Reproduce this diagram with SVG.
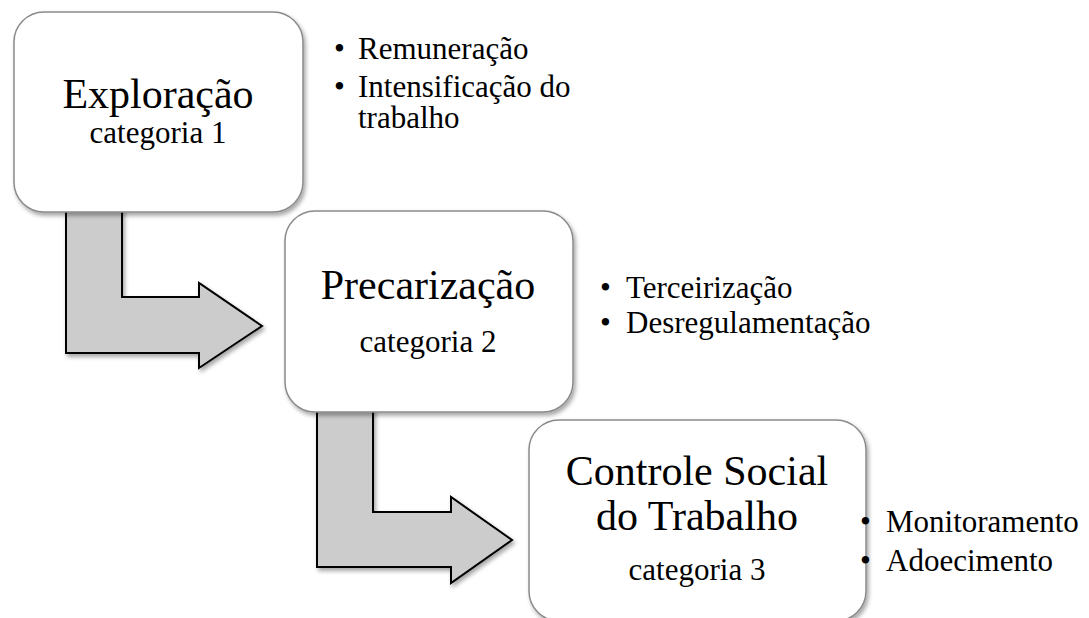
<svg xmlns="http://www.w3.org/2000/svg" width="1089" height="618" viewBox="0 0 1089 618">
<defs>
<filter id="sh" x="-10%" y="-10%" width="125%" height="125%">
<feDropShadow dx="2" dy="3" stdDeviation="2" flood-color="#000" flood-opacity="0.35"/>
</filter>
<style>
.box{fill:#fff;stroke:#8a8a8a;stroke-width:1.5;filter:url(#sh)}
.arr{fill:#cccccc;stroke:#000;stroke-width:2;stroke-linejoin:miter;filter:url(#sh)}
.t{font-family:"Liberation Serif","Times New Roman",serif;fill:#000}
.big{font-size:42px;text-anchor:middle}
.sub{font-size:31px;text-anchor:middle}
.bl{font-size:31px}
</style>
</defs>
<rect width="1089" height="618" fill="#fff"/>
<g id="connectors">
<polygon class="arr" points="66,205 66,353 199,353 199,368 262,326 199,283 199,297 122,297 122,205"/>
<polygon class="arr" points="317,405 317,567 451,567 451,583 512,540 451,497 451,512 373,512 373,405"/>
</g>
<g id="node1">
<rect class="box" x="14" y="12" width="289" height="200" rx="30"/>
<text class="t big" x="158" y="108">Exploração</text>
<text class="t sub" x="158" y="143">categoria 1</text>
</g>
<g id="list1">
<text class="t bl" x="334" y="59">•</text>
<text class="t bl" x="358" y="59">Remuneração</text>
<text class="t bl" x="334" y="97">•</text>
<text class="t bl" x="358" y="97">Intensificação do</text>
<text class="t bl" x="358" y="128">trabalho</text>
</g>
<g id="node2">
<rect class="box" x="285" y="211" width="288" height="201" rx="30"/>
<text class="t big" x="428" y="299">Precarização</text>
<text class="t sub" x="428" y="352">categoria 2</text>
</g>
<g id="list2">
<text class="t bl" x="600" y="298">•</text>
<text class="t bl" x="626" y="298">Terceirização</text>
<text class="t bl" x="600" y="333">•</text>
<text class="t bl" x="626" y="333">Desregulamentação</text>
</g>
<g id="node3">
<rect class="box" x="529" y="420" width="337" height="201" rx="30"/>
<text class="t big" x="697" y="485">Controle Social</text>
<text class="t big" x="697" y="530">do Trabalho</text>
<text class="t sub" x="697" y="580">categoria 3</text>
</g>
<g id="list3">
<text class="t bl" x="860" y="532">•</text>
<text class="t bl" x="886" y="532">Monitoramento</text>
<text class="t bl" x="860" y="571">•</text>
<text class="t bl" x="886" y="571">Adoecimento</text>
</g>
</svg>
